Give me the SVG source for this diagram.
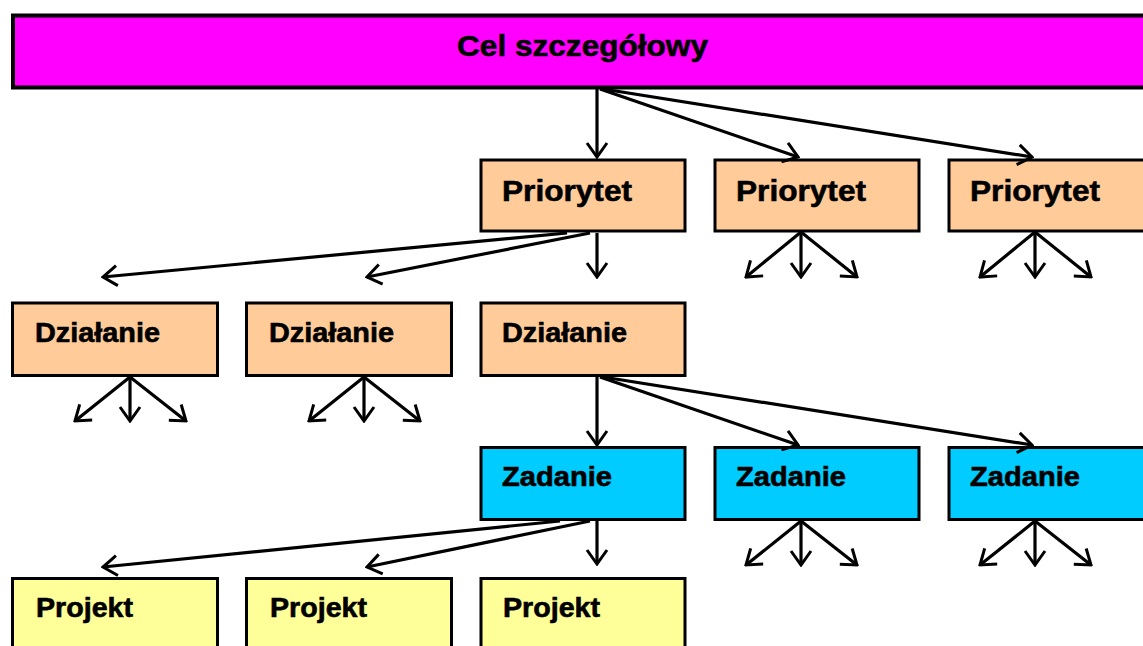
<svg xmlns="http://www.w3.org/2000/svg" width="1143" height="646" viewBox="0 0 1143 646">
<defs>
<marker id="ah" viewBox="0 0 18 24" refX="16" refY="12" markerWidth="18" markerHeight="24" markerUnits="userSpaceOnUse" orient="auto">
<path d="M2,2 L16,12 L2,22" fill="none" stroke="#000" stroke-width="3"/>
</marker>
<style>
.box{stroke:#000;stroke-width:3}
.goal{fill:#FF00FF;stroke:#000;stroke-width:4}
.pri{fill:#FFCC99}
.dzi{fill:#FFCC99}
.zad{fill:#00CCFF}
.pro{fill:#FFFF99}
.t{font-family:"Liberation Sans",Arial,sans-serif;font-weight:bold;fill:#000;stroke:#000;stroke-width:0.6}
.big{font-size:30px}
.mid{font-size:30px}
.sm{font-size:27px}
.c line{stroke:#000;stroke-width:3.2;fill:none;marker-end:url(#ah)}
</style>
</defs>
<rect width="1143" height="646" fill="#fff"/>

<g id="cel">
<rect class="goal" x="13" y="15.5" width="1140" height="72"/>
<text class="t big" x="457" y="56" textLength="251" lengthAdjust="spacingAndGlyphs">Cel szczegółowy</text>
</g>

<g id="priorytet1"><rect class="box pri" x="481" y="160" width="204" height="71"/><text class="t mid" x="502" y="201" textLength="130" lengthAdjust="spacingAndGlyphs">Priorytet</text></g>
<g id="priorytet2"><rect class="box pri" x="715" y="160" width="204" height="71"/><text class="t mid" x="736" y="201" textLength="130" lengthAdjust="spacingAndGlyphs">Priorytet</text></g>
<g id="priorytet3"><rect class="box pri" x="949" y="160" width="204" height="71"/><text class="t mid" x="970" y="201" textLength="130" lengthAdjust="spacingAndGlyphs">Priorytet</text></g>

<g id="dzialanie1"><rect class="box dzi" x="12.5" y="303" width="205" height="72.5"/><text class="t sm" x="35" y="342" textLength="125" lengthAdjust="spacingAndGlyphs">Działanie</text></g>
<g id="dzialanie2"><rect class="box dzi" x="246.5" y="303" width="205" height="72.5"/><text class="t sm" x="269" y="342" textLength="125" lengthAdjust="spacingAndGlyphs">Działanie</text></g>
<g id="dzialanie3"><rect class="box dzi" x="481" y="303" width="204" height="72.5"/><text class="t sm" x="502" y="342" textLength="125" lengthAdjust="spacingAndGlyphs">Działanie</text></g>

<g id="zadanie1"><rect class="box zad" x="481" y="447.5" width="204" height="72"/><text class="t sm" x="502" y="486" textLength="110" lengthAdjust="spacingAndGlyphs">Zadanie</text></g>
<g id="zadanie2"><rect class="box zad" x="715" y="447.5" width="204" height="72"/><text class="t sm" x="736" y="486" textLength="110" lengthAdjust="spacingAndGlyphs">Zadanie</text></g>
<g id="zadanie3"><rect class="box zad" x="949" y="447.5" width="204" height="72"/><text class="t sm" x="970" y="486" textLength="110" lengthAdjust="spacingAndGlyphs">Zadanie</text></g>

<g id="projekt1"><rect class="box pro" x="12.5" y="578.5" width="205" height="80"/><text class="t sm" x="36" y="617" textLength="97" lengthAdjust="spacingAndGlyphs">Projekt</text></g>
<g id="projekt2"><rect class="box pro" x="246.5" y="578.5" width="205" height="80"/><text class="t sm" x="270" y="617" textLength="97" lengthAdjust="spacingAndGlyphs">Projekt</text></g>
<g id="projekt3"><rect class="box pro" x="481" y="578.5" width="204" height="80"/><text class="t sm" x="503" y="617" textLength="97" lengthAdjust="spacingAndGlyphs">Projekt</text></g>

<g id="connectors" class="c">
<line x1="597" y1="89" x2="597" y2="157"/>
<line x1="600" y1="89" x2="798" y2="157"/>
<line x1="603" y1="89" x2="1032" y2="157"/>

<line x1="567" y1="233" x2="103" y2="277"/>
<line x1="590" y1="233" x2="367" y2="277"/>
<line x1="597" y1="233" x2="597" y2="277"/>

<line x1="801" y1="232" x2="746" y2="277"/>
<line x1="801" y1="232" x2="801" y2="277"/>
<line x1="801" y1="232" x2="857" y2="277"/>

<line x1="1035" y1="232" x2="980" y2="277"/>
<line x1="1035" y1="232" x2="1035" y2="277"/>
<line x1="1035" y1="232" x2="1091" y2="277"/>

<line x1="130" y1="377" x2="75" y2="421"/>
<line x1="130" y1="377" x2="130" y2="421"/>
<line x1="130" y1="377" x2="186" y2="421"/>

<line x1="364" y1="377" x2="309" y2="421"/>
<line x1="364" y1="377" x2="364" y2="421"/>
<line x1="364" y1="377" x2="420" y2="421"/>

<line x1="597" y1="377" x2="597" y2="445"/>
<line x1="600" y1="377" x2="798" y2="445"/>
<line x1="603" y1="377" x2="1032" y2="445"/>

<line x1="560" y1="521" x2="103" y2="567"/>
<line x1="590" y1="521" x2="367" y2="567"/>
<line x1="597" y1="521" x2="597" y2="564"/>

<line x1="801" y1="521" x2="746" y2="565"/>
<line x1="801" y1="521" x2="801" y2="565"/>
<line x1="801" y1="521" x2="857" y2="565"/>

<line x1="1035" y1="521" x2="980" y2="565"/>
<line x1="1035" y1="521" x2="1035" y2="565"/>
<line x1="1035" y1="521" x2="1091" y2="565"/>
</g>
</svg>
